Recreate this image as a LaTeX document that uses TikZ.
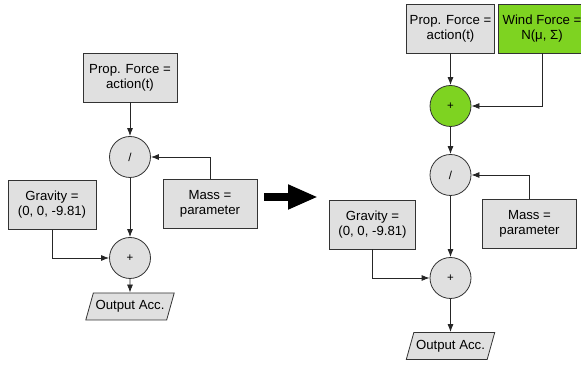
\documentclass[tikz,border=0pt]{standalone}
\usepackage{fontspec}
\setmainfont{Liberation Sans}
\usetikzlibrary{positioning,shapes.geometric,arrows.meta}
\definecolor{boxgray}{HTML}{E0E0E0}
\definecolor{windgreen}{HTML}{7ED321}
\definecolor{linegray}{HTML}{333333}
\begin{document}
\begin{tikzpicture}[
    x=1pt, y=1pt,
    every node/.style={align=center},
    block/.style={rectangle, draw=linegray, line width=0.8pt, fill=boxgray, minimum width=94pt, minimum height=49pt, font=\fontsize{13.2}{15}\selectfont},
    op/.style={circle, draw=linegray, line width=0.8pt, fill=boxgray, minimum size=41pt, inner sep=0pt, font=\fontsize{11.5}{13}\selectfont},
    io/.style={trapezium, trapezium left angle=68, trapezium right angle=112, trapezium stretches=true, draw=linegray, line width=0.8pt, fill=boxgray, inner xsep=2pt, minimum width=89pt, minimum height=27pt, font=\fontsize{13.2}{15}\selectfont},
    arrow/.style={->, >={Latex[length=8pt,width=6pt]}, line width=0.8pt, draw=black!85},
    bigarrow/.style={-{Triangle[length=30pt,width=23pt]}, line width=8pt, draw=black}
]
    \useasboundingbox (0,0) rectangle (581,371);

    % Left model - without wind
    \node[block] (prop1) at (130,293.5) {Prop. Force =\\action(t)};
    \node[op, node distance=79.5pt, below of=prop1] (div1) {/};
    \node[op, node distance=101pt, below of=div1] (plus1) {+};
    \node[io, node distance=48.5pt, below of=plus1] (out1) {Output Acc.};
    \node[block, node distance=80pt, right of=div1, yshift=-47pt] (mass1) {Mass =\\parameter};
    \node[block, node distance=78pt, left of=plus1, yshift=53pt, minimum width=88pt] (grav1) {Gravity =\\(0, 0, -9.81)};

    \draw[arrow] (prop1) -- (div1);
    \draw[arrow] (mass1.north) |- (div1.east);
    \draw[arrow] (div1) -- (plus1);
    \draw[arrow] (grav1.south) |- (plus1.west);
    \draw[arrow] (plus1) -- (out1);

    % Big arrow between the two models
    \coordinate (bigfrom) at (264,174);
    \coordinate (bigto) at (318,174);
    \draw[bigarrow] (bigfrom) -- (bigto);

    % Right model - with wind
    \node[block, minimum width=87pt] (prop2) at (450.5,342.5) {Prop. Force =\\action(t)};
    \node[block, node distance=91.5pt, right of=prop2, minimum width=87pt, fill=windgreen] (wind2) {Wind Force =\\N(μ, Σ)};
    \node[op, node distance=77.5pt, below of=prop2, fill=windgreen] (sum2) {+};
    \node[op, node distance=69pt, below of=sum2] (div2) {/};
    \node[op, node distance=103pt, below of=div2] (plus2) {+};
    \node[io, node distance=68pt, below of=plus2] (out2) {Output Acc.};
    \node[block, node distance=79pt, right of=div2, yshift=-48.5pt] (mass2) {Mass =\\parameter};
    \node[block, node distance=78pt, left of=plus2, yshift=53.5pt, minimum width=86pt] (grav2) {Gravity =\\(0, 0, -9.81)};

    \draw[arrow] (prop2) -- (sum2);
    \draw[arrow] (wind2.south) |- (sum2.east);
    \draw[arrow] (sum2) -- (div2);
    \draw[arrow] (mass2.north) |- (div2.east);
    \draw[arrow] (div2) -- (plus2);
    \draw[arrow] (grav2.south) |- (plus2.west);
    \draw[arrow] (plus2) -- (out2);

\end{tikzpicture}
\end{document}
